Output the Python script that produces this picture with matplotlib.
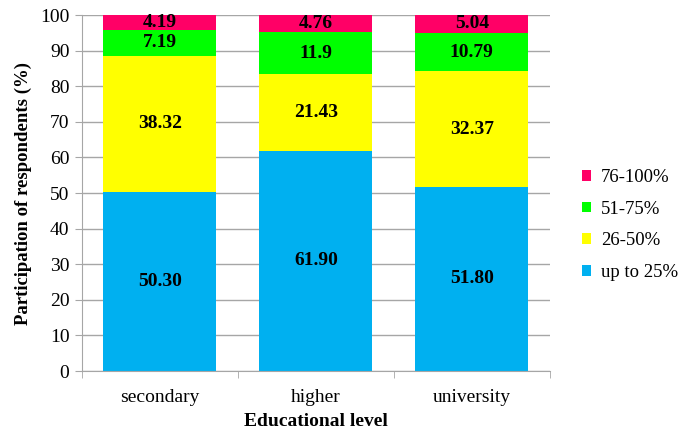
import matplotlib.pyplot as plt
import numpy as np

levels = ["secondary", "higher", "university"]
series = ["up to 25%", "26-50%", "51-75%", "76-100%"]
up_to_25 = [50.30, 61.90, 51.80]
p26_50 = [38.32, 21.43, 32.37]
p51_75 = [7.19, 11.9, 10.79]
p76_100 = [4.19, 4.76, 5.04]
label_fmt = [
    ["50.30", "61.90", "51.80"],
    ["38.32", "21.43", "32.37"],
    ["7.19", "11.9", "10.79"],
    ["4.19", "4.76", "5.04"],
]
colors = ["#00B0F0", "#FFFF00", "#00FF00", "#FF0066"]

plt.rcParams["font.family"] = ["Liberation Serif", "DejaVu Serif"]

fig = plt.figure(figsize=(6.83, 4.29), dpi=100)
ax = fig.add_axes([0.120, 0.135, 0.685, 0.830])

x = np.arange(len(levels))
bottom = np.zeros(len(levels))
handles = []
for vals, labels, color, name in zip(
        [up_to_25, p26_50, p51_75, p76_100], label_fmt, colors, series):
    vals = np.array(vals)
    bars = ax.bar(x, vals, 0.725, bottom=bottom, color=color, label=name, zorder=2)
    handles.append(bars)
    for xi, b, v, t in zip(x, bottom, vals, labels):
        ax.text(xi, b + v / 2, t, ha="center", va="center",
                fontsize=14, fontweight="bold", zorder=3)
    bottom += vals

ax.set_xlim(-0.5, 2.5)
ax.set_ylim(0, 100)
ax.set_yticks(range(0, 101, 10))
ax.yaxis.grid(True, color="#A6A6A6", linewidth=1, zorder=0)
ax.set_axisbelow(True)
ax.set_xticks(x)
ax.set_xticklabels(levels, fontsize=14)
ax.set_xticks([-0.5, 0.5, 1.5, 2.5], minor=True)
ax.tick_params(axis="x", which="major", length=0, pad=13)
ax.tick_params(axis="x", which="minor", length=5, color="#A6A6A6", direction="out")
ax.tick_params(axis="y", labelsize=14, length=5, color="#A6A6A6", direction="out", pad=4)
for side in ["top", "right"]:
    ax.spines[side].set_visible(False)
for side in ["left", "bottom"]:
    ax.spines[side].set_color("#A6A6A6")

ax.set_xlabel("Educational level", fontsize=14, fontweight="bold", labelpad=5)
ax.set_ylabel("Participation of respondents (%)", fontsize=13.5, fontweight="bold",
              labelpad=6)

leg = ax.legend(handles[::-1], series[::-1], loc="center left",
                bbox_to_anchor=(1.041, 0.41), frameon=False, fontsize=13.5,
                handlelength=0.5, handleheight=0.5, labelspacing=0.78,
                handletextpad=0.5, borderaxespad=0.3)

fig.savefig("out.png", dpi=100)
